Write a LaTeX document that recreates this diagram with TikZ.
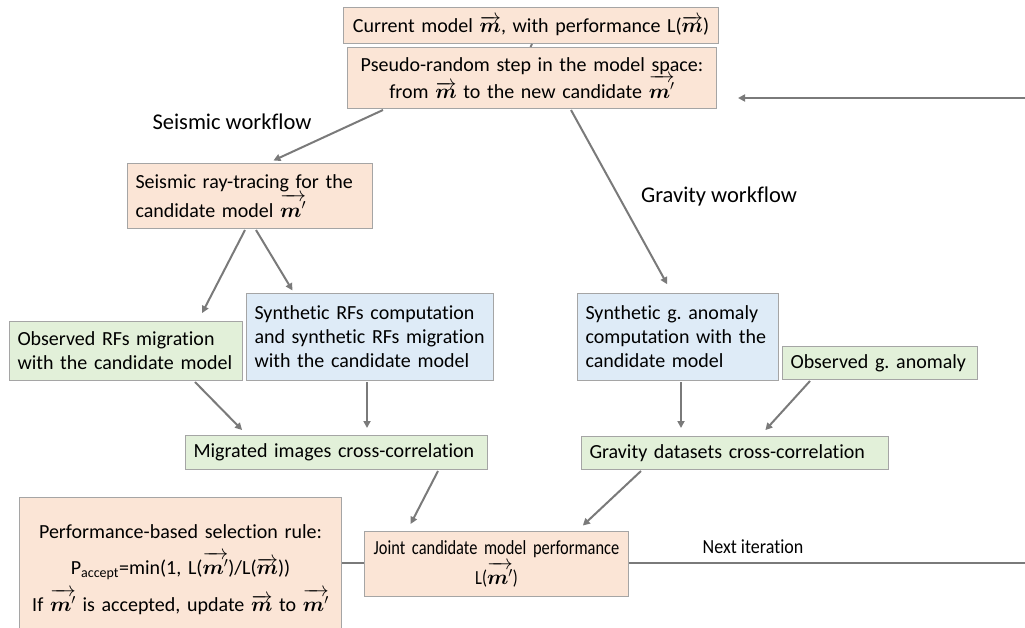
\documentclass[tikz,border=0pt]{standalone}
\usepackage{amsmath}
\usepackage{bm}
\usepackage{fontspec}
\setmainfont{Carlito}[Ligatures=NoCommon]
\newfontfamily\condjt{Carlito}[Ligatures=NoCommon,FakeStretch=0.82]
\newfontfamily\condni{Carlito}[Ligatures=NoCommon,FakeStretch=0.9]
\frenchspacing
\usetikzlibrary{arrows.meta}
\definecolor{peach}{HTML}{FBE5D6}
\definecolor{lgreen}{HTML}{E2F0D9}
\definecolor{lblue}{HTML}{DEEBF7}
\definecolor{bordergray}{HTML}{A5A5A5}
\definecolor{linegray}{HTML}{7A7A7A}
\newcommand{\vm}{\ensuremath{\overrightarrow{\bm{m}}}}
\newcommand{\vmp}{\ensuremath{\overrightarrow{\bm{m}'}}}
\begin{document}
\begin{tikzpicture}[x=1pt,y=-1pt,
  box/.style={draw=bordergray,line width=1pt,inner xsep=8pt,inner ysep=0pt,
    font=\fontsize{20}{24}\selectfont,anchor=north west},
  pbox/.style={box,fill=peach},
  gbox/.style={box,fill=lgreen},
  bbox/.style={box,fill=lblue},
  lab/.style={font=\fontsize{22.5}{26}\selectfont},
  conn/.style={draw=linegray,line width=2pt},
  arr/.style={conn,-{Triangle[length=7pt,width=7pt]}}]
\useasboundingbox (0,0) rectangle (1025,628);
% boxes
\node[pbox,minimum width=375pt,minimum height=36pt,text width=359pt,align=center] (cm) at (343,7)
  {Current model \vm, with performance L(\vm)};
\node[pbox,minimum width=369pt,minimum height=61pt,text width=353pt,align=center,
  font=\fontsize{20}{27}\selectfont] (pr) at (347,47)
  {Pseudo-random step in the model space:\\ from \vm{} to the new candidate \vmp};
\node[pbox,minimum width=245pt,minimum height=65pt,text width=229pt,align=left,
  font=\fontsize{20}{29}\selectfont] (rt) at (127,163)
  {Seismic ray-tracing for the\\ candidate model \vmp};
\node[gbox,minimum width=233pt,minimum height=59pt,text width=217pt,align=left] (or) at (9,321)
  {Observed RFs migration\\ with the candidate model};
\node[bbox,minimum width=247pt,minimum height=87pt,text width=231pt,align=left] (sr) at (246,293)
  {Synthetic RFs computation\\ and synthetic RFs migration\\ with the candidate model};
\node[gbox,minimum width=302pt,minimum height=34pt,text width=286pt,align=left] (mi) at (185,435)
  {Migrated images cross-correlation};
\node[bbox,minimum width=201pt,minimum height=87pt,text width=185pt,align=left] (sg) at (577,293)
  {Synthetic g. anomaly\\ computation with the\\ candidate model};
\node[gbox,minimum width=195pt,minimum height=33pt,text width=179pt,align=left] (og) at (782,346)
  {Observed g. anomaly};
\node[gbox,minimum width=307pt,minimum height=33pt,text width=291pt,align=left] (gd) at (581,436)
  {Gravity datasets cross-correlation};
\node[pbox,minimum width=264pt,minimum height=65pt,text width=248pt,align=center,
  font=\condjt\fontsize{20}{30}\selectfont] (jt) at (364,531)
  {Joint candidate model performance\\ L(\vmp)};
\node[pbox,minimum width=322pt,minimum height=145pt,text width=306pt,align=center,
  font=\fontsize{20}{37}\selectfont] (ps) at (19,497)
  {Performance-based selection rule:\\[-1pt]
   P\textsubscript{accept}=min(1, L(\vmp)/L(\vm))\\
   If \vmp{} is accepted, update \vm{} to \vmp\\[10pt]};
% labels
\node[lab] (sw) at (232,122) {Seismic workflow};
\node[lab] (gw) at (719,197) {Gravity workflow};
\node[lab,font=\condni\fontsize{20}{24}\selectfont] (ni) at (753,547) {Next iteration};
% coordinates at the right edge
\coordinate (edgeA) at (1025,563);
\coordinate (edgeB) at (1025,98);
% connectors
\draw[conn] ([xshift=1pt]cm.south) -- ([xshift=-0.5pt]pr.north -| cm.south);
\draw[arr,shorten >=6pt] ([shift={(36,1)}]pr.south west) -- ([shift={(141,0)}]rt.north west);
\draw[arr,shorten >=10pt] ([shift={(224,1)}]pr.south west) -- ([shift={(95,0)}]sg.north west);
\draw[arr,shorten >=9pt] ([shift={(118,1)}]rt.south west) -- ([shift={(189,0)}]or.north west);
\draw[arr,shorten >=3pt] ([shift={(129,1)}]rt.south west) -- ([shift={(48,0)}]sr.north west);
\draw[arr,shorten >=7pt] ([shift={(186,1)}]or.south west) -- ([shift={(62,0)}]mi.north west);
\draw[arr,shorten >=7pt] ([shift={(121,1)}]sr.south west) -- ([shift={(182,0)}]mi.north west);
\draw[arr,shorten >=8pt] ([shift={(104,1)}]sg.south west) -- ([shift={(100,0)}]gd.north west);
\draw[arr,shorten >=8pt] ([shift={(28,1)}]og.south west) -- ([shift={(179,0)}]gd.north west);
\draw[arr,shorten >=8pt] ([shift={(253,1)}]mi.south west) -- ([shift={(43,0)}]jt.north west);
\draw[arr,shorten >=8pt] ([shift={(60,1)}]gd.south west) -- ([shift={(213,0)}]jt.north west);
\draw[conn] (ps.east |- 0,563) -- (jt.west |- 0,563);
\draw[conn] (jt.east |- edgeA) -- (edgeA);
\draw[arr,shorten >=21pt] (edgeB) -- (pr.east |- edgeB);
\end{tikzpicture}
\end{document}
